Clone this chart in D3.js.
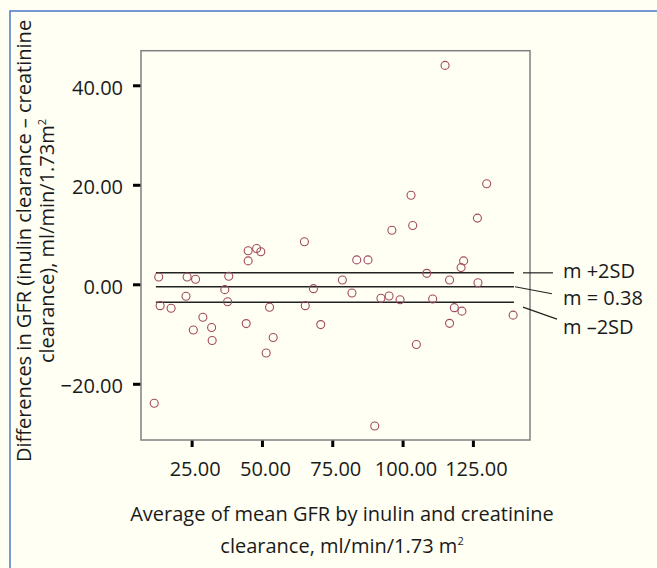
<!DOCTYPE html>
<html>
<head>
<meta charset="utf-8">
<script src="https://cdn.jsdelivr.net/npm/d3@7"></script>
<style>
  html, body { margin: 0; padding: 0; background: #fffff4; }
  svg { display: block; }
  text { font-family: "Open Sans", "Noto Sans", sans-serif; fill: #1a1a1a; }
</style>
</head>
<body>
<svg id="chart" width="657" height="568"></svg>
<script>
// ---- data ----
const avgGFR = [115.1, 129.9, 103.0, 126.6, 96.2, 103.6, 65.1,
  45.1, 48.1, 49.6, 45.1, 13.3, 23.4, 26.4, 38.2, 36.8, 68.3, 23.0, 37.8,
  13.8, 17.7, 52.7, 65.4, 29.0, 25.6, 32.1, 44.4, 70.9, 32.3, 54.0, 51.5, 11.7,
  83.7, 87.7, 121.7, 120.8, 108.6, 78.6, 116.7, 126.8, 82.0, 92.3, 95.2, 99.1,
  110.7, 118.4, 121.1, 139.3, 116.7, 104.9, 90.1];
const diffGFR = [44.0, 20.2, 17.9, 13.3, 10.85, 11.8, 8.55,
  6.75, 7.2, 6.55, 4.7, 1.47, 1.47, 1.0, 1.6, -1.08, -0.88, -2.4, -3.5,
  -4.3, -4.83, -4.63, -4.3, -6.64, -9.2, -8.7, -7.9, -8.1, -11.3, -10.7, -13.8, -23.9,
  4.9, 4.9, 4.7, 3.35, 2.2, 0.86, 0.86, 0.32, -1.75, -2.8, -2.35, -3.1,
  -2.95, -4.7, -5.4, -6.2, -7.85, -12.1, -28.5];
const refValues = [2.3, -0.5, -3.6];          // m +2SD, mean line, m −2SD (as drawn)
const refLabels = ["m +2SD", "m = 0.38", "m \u20132SD"];
const refExtent = [12.3, 139.6];
const xTicks = [25, 50, 75, 100, 125];
const yTicks = [-20, 0, 20, 40];
const xTitle = ["Average of mean GFR by inulin and creatinine", "clearance, ml/min/1.73 m"];
const yTitle = ["Differences in GFR (inulin clearance \u2013 creatinine", "clearance), ml/min/1.73m"];

const svg = d3.select("#chart");
const W = 657, H = 568;
const plot = { left: 141, right: 530, top: 50.7, bottom: 440 };
const FS = 20;

svg.append("rect").attr("width", W).attr("height", H).attr("fill", "#fffff4");
// blue page border (only top/left visible)
svg.append("rect").attr("x", 10).attr("y", 11).attr("width", W + 20).attr("height", H + 20)
  .attr("fill", "none").attr("stroke", "#4a78c8").attr("stroke-width", 1.5);

const x = d3.scaleLinear().domain([7, 145.3]).range([plot.left, plot.right]);
const y = d3.scaleLinear().domain([-31.3, 46.95]).range([plot.bottom, plot.top]);

// axes
const fmt = d3.format(".2f");
const yAxis = svg.append("g").attr("transform", `translate(${plot.left},0)`)
  .call(d3.axisLeft(y).tickValues(yTicks).tickFormat(fmt).tickSize(8).tickSizeOuter(0).tickPadding(10));
yAxis.select(".domain").remove();
yAxis.selectAll(".tick line").attr("stroke", "#000").attr("stroke-width", 3);
yAxis.selectAll(".tick text").attr("font-size", FS).attr("dy", "0.45em").style("font-family", "'Open Sans', sans-serif").attr("fill", "#1a1a1a");

const xAxis = svg.append("g").attr("transform", `translate(0,${plot.bottom})`)
  .call(d3.axisBottom(x).tickValues(xTicks).tickFormat(fmt).tickSize(7).tickSizeOuter(0).tickPadding(15));
xAxis.select(".domain").remove();
xAxis.selectAll(".tick line").attr("stroke", "#000").attr("stroke-width", 3);
xAxis.selectAll(".tick text").attr("font-size", FS).attr("dx", 3).style("font-family", "'Open Sans', sans-serif").attr("fill", "#1a1a1a");

// frame
svg.append("rect").attr("x", plot.left).attr("y", plot.top)
  .attr("width", plot.right - plot.left).attr("height", plot.bottom - plot.top)
  .attr("fill", "none").attr("stroke", "#808080").attr("stroke-width", 1.5);

// reference lines
svg.append("g").selectAll("line").data(refValues).join("line")
  .attr("x1", x(refExtent[0])).attr("x2", x(refExtent[1]))
  .attr("y1", d => y(d)).attr("y2", d => y(d))
  .attr("stroke", "#222").attr("stroke-width", 1.5);

// points
svg.append("g").selectAll("circle").data(avgGFR.map((a, i) => [a, diffGFR[i]])).join("circle")
  .attr("cx", d => x(d[0])).attr("cy", d => y(d[1])).attr("r", 4)
  .attr("fill", "none").attr("stroke", "#a04a62").attr("stroke-width", 1.1);

// annotation leaders & labels
const lx0 = x(refExtent[1]);
const leaders = [
  { x1: lx0 + 9, y1: y(refValues[0]), x2: lx0 + 39, y2: y(refValues[0]) },
  { x1: lx0 + 1, y1: y(refValues[1]), x2: lx0 + 38, y2: y(refValues[1]) + 7 },
  { x1: lx0 + 9, y1: y(refValues[2]) + 5, x2: lx0 + 43, y2: y(refValues[2]) + 17 }
];
svg.append("g").selectAll("line").data(leaders).join("line")
  .attr("x1", d => d.x1).attr("y1", d => d.y1).attr("x2", d => d.x2).attr("y2", d => d.y2)
  .attr("stroke", "#222").attr("stroke-width", 1.2);
const labelY = [y(refValues[0]) - 2, y(refValues[1]) + 11, y(refValues[2]) + 25];
svg.append("g").selectAll("text").data(refLabels).join("text")
  .attr("x", lx0 + 49).attr("y", (d, i) => labelY[i]).attr("dy", "0.35em")
  .attr("font-size", FS).text(d => d);

// axis titles (with superscript 2)
function addSup(sel) {
  sel.append("tspan").attr("font-size", 11).attr("dy", -8).text("2");
}
const xt = svg.append("g").selectAll("text").data(xTitle).join("text")
  .attr("x", 342).attr("y", (d, i) => 521 + i * 32)
  .attr("text-anchor", "middle").attr("font-size", FS)
  .text(d => d);
xt.filter((d, i) => i === 1).call(addSup);

const yt = svg.append("g").selectAll("text").data(yTitle).join("text")
  .attr("transform", (d, i) => `translate(${31 + i * 23},241) rotate(-90)`)
  .attr("text-anchor", "middle").attr("font-size", FS)
  .text(d => d);
yt.filter((d, i) => i === 1).call(addSup);
</script>
</body>
</html>
